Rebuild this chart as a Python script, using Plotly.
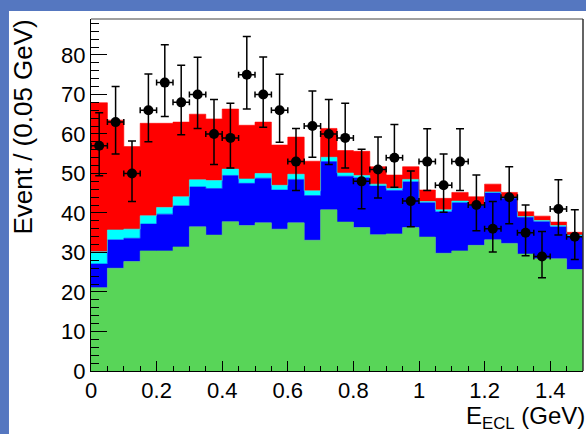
import plotly.graph_objects as go

# E_ECL histogram: 30 bins of 0.05 GeV from 0 to 1.5 GeV
bin_width = 0.05
n_bins = 30
bin_edges = [round(i * bin_width, 3) for i in range(n_bins + 1)]
bin_centers = [round((i + 0.5) * bin_width, 3) for i in range(n_bins)]

# Stacked background components (events per bin)
comp_green = [21.1, 26.0, 27.7, 30.4, 30.4, 31.4, 36.5, 34.4, 37.8, 36.8,
              37.5, 35.9, 37.5, 33.1, 40.8, 37.7, 36.3, 34.5, 34.7, 36.3,
              33.9, 29.8, 30.4, 31.8, 33.2, 32.3, 29.6, 28.4, 28.4, 25.7]
comp_blue = [6.0, 7.2, 5.9, 6.8, 9.3, 10.4, 10.1, 11.8, 11.7, 10.7,
             11.3, 9.9, 11.0, 11.3, 12.2, 11.6, 12.6, 12.3, 11.0, 11.6,
             8.7, 10.5, 12.2, 10.1, 11.9, 11.4, 9.3, 9.4, 8.1, 8.5]
comp_cyan = [3.1, 2.5, 2.3, 2.1, 1.7, 2.3, 1.8, 2.0, 1.6, 1.1,
             1.2, 1.2, 1.3, 1.2, 1.1, 0.8, 0.6, 0.5, 0.5, 0.6,
             0.3, 0.5, 0.4, 0.1, 0.2, 0.3, 0.2, 0.3, 0.3, 0.2]
comp_red = [37.7, 27.8, 20.9, 23.4, 21.3, 18.9, 16.6, 15.6, 15.2, 13.6,
            13.0, 10.2, 9.4, 7.5, 7.3, 5.7, 6.1, 4.4, 3.4, 3.2,
            2.9, 2.9, 2.2, 2.1, 2.0, 1.2, 1.2, 1.1, 0.9, 0.7]

# Observed events with asymmetric errors
data_counts = [57, 63, 50, 66, 73, 68, 70, 60, 59, 75,
               70, 66, 53, 62, 60, 59, 48, 51, 54, 43,
               53, 47, 53, 42, 36, 44, 35, 29, 41, 34]
err_up = [8.4, 9.0, 8.2, 9.2, 9.6, 9.4, 9.4, 8.7, 8.8, 9.7,
          9.5, 9.1, 8.4, 8.9, 8.7, 8.8, 8.1, 8.2, 8.4, 7.6,
          8.3, 7.9, 8.3, 7.6, 6.9, 7.7, 7.0, 6.3, 7.4, 6.8]
err_dn = [7.6, 8.1, 7.1, 8.0, 8.6, 8.2, 8.6, 7.7, 7.6, 8.7,
          8.3, 8.1, 7.3, 7.9, 7.7, 7.6, 6.9, 7.2, 7.5, 6.5,
          7.3, 6.8, 7.3, 6.5, 5.9, 6.7, 5.8, 5.4, 6.6, 5.8]

FONT = "Liberation Sans, Arial, sans-serif"

fig = go.Figure()

# cumulative stacking, drawn as filled step histograms
layers = [
    (comp_green, "#58d558"),
    (comp_blue, "#0000ff"),
    (comp_cyan, "#00ffff"),
    (comp_red, "#ff0000"),
]
running = [0.0] * n_bins
for i, (vals, color) in enumerate(layers):
    running = [a + b for a, b in zip(running, vals)]
    fig.add_trace(go.Scatter(
        x=bin_edges,
        y=running + [running[-1]],
        mode="lines",
        line=dict(shape="hv", width=0.6, color=color),
        fill="tozeroy" if i == 0 else "tonexty",
        fillcolor=color,
        hoverinfo="skip",
        showlegend=False,
    ))

fig.add_trace(go.Scatter(
    x=bin_centers,
    y=data_counts,
    mode="markers",
    marker=dict(color="black", size=10),
    error_y=dict(type="data", symmetric=False, array=err_up, arrayminus=err_dn,
                 color="black", thickness=1.5, width=4),
    error_x=dict(type="constant", value=bin_width / 2,
                 color="black", thickness=1.5, width=3),
    showlegend=False,
))

fig.update_layout(
    width=586, height=434,
    margin=dict(l=91, r=3, t=19, b=63),
    paper_bgcolor="#5577c0",
    plot_bgcolor="white",
    font=dict(family=FONT, size=22, color="black"),
    xaxis=dict(
        range=[0, 1.5], tickvals=[0, 0.2, 0.4, 0.6, 0.8, 1, 1.2, 1.4],
        ticktext=["0", "0.2", "0.4", "0.6", "0.8", "1", "1.2", "1.4"],
        ticks="inside", ticklen=10, tickwidth=1, tickcolor="black",
        minor=dict(dtick=0.05, tick0=0, ticks="inside", ticklen=5,
                   tickwidth=1, tickcolor="black"),
        showline=True, linecolor="black", linewidth=1,
        showgrid=False, zeroline=False,
        tickfont=dict(family=FONT, size=22),
    ),
    yaxis=dict(
        range=[0, 89.1], tickvals=[0, 10, 20, 30, 40, 50, 60, 70, 80],
        ticks="inside", ticklen=16, tickwidth=1, tickcolor="black",
        minor=dict(dtick=2, tick0=0, ticks="inside", ticklen=8,
                   tickwidth=1, tickcolor="black"),
        showline=True, linecolor="black", linewidth=1,
        showgrid=False, zeroline=False,
        tickfont=dict(family=FONT, size=22),
    ),
    shapes=[
        # white canvas over the slide background
        dict(type="rect", xref="paper", yref="paper",
             x0=-0.1667, x1=1.01, y0=-0.2, y1=1.0227,
             fillcolor="white", line=dict(width=0), layer="below"),
        # frame: top and right edges
        dict(type="line", xref="paper", yref="paper", x0=0, x1=1, y0=1, y1=1,
             line=dict(color="#a0a0a0", width=2)),
        dict(type="line", xref="paper", yref="paper", x0=1, x1=1, y0=0, y1=1,
             line=dict(color="#303030", width=1.5)),
    ],
    annotations=[
        dict(text="Event / (0.05 GeV)", textangle=-90,
             xref="paper", yref="paper", x=-0.138, y=1.003,
             xanchor="center", yanchor="top", showarrow=False,
             font=dict(family=FONT, size=26, color="black")),
        dict(text="E<sub>ECL</sub> (GeV)",
             xref="paper", yref="paper", x=1.006, y=-0.131,
             xanchor="right", yanchor="middle", showarrow=False, borderpad=0,
             font=dict(family=FONT, size=24, color="black")),
    ],
)

fig.write_html("out.html")
